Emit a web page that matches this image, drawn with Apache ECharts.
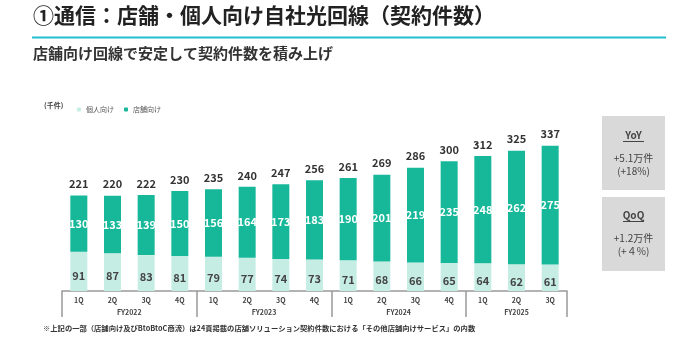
<!DOCTYPE html>
<html><head><meta charset="utf-8">
<script src="https://cdn.jsdelivr.net/npm/echarts@6/dist/echarts.min.js"></script>
<style>html,body{margin:0;padding:0;background:#fff}#c{width:691px;height:337px}</style>
</head><body><div id="c"></div>
<script>
const quarters = ['1Q','2Q','3Q','4Q','1Q','2Q','3Q','4Q','1Q','2Q','3Q','4Q','1Q','2Q','3Q'];
const fiscalYears = ['FY2022','FY2023','FY2024','FY2025'];
const kojin = [91,87,83,81,79,77,74,73,71,68,66,65,64,62,61];
const tenpo = [130,133,139,150,156,164,173,183,190,201,219,235,248,262,275];
const totals = [221,220,222,230,235,240,247,256,261,269,286,300,312,325,337];
const fyPos = {4:fiscalYears[0],12:fiscalYears[1],20:fiscalYears[2],27:fiscalYears[3]};

const FONT = '"Noto Sans CJK JP","Noto Sans",sans-serif';
const chart = echarts.init(document.getElementById('c'));
const L = 62, R = 691-567, B = 337-291;
chart.setOption({
  animation:false,
  textStyle:{fontFamily:FONT},
  grid:{left:L, right:R, top:118, bottom:B},
  legend:{left:72, top:101, itemWidth:4, itemHeight:4, itemGap:10,
    textStyle:{fontSize:7, color:'#555', fontFamily:FONT},
    data:['個人向け','店舗向け']},
  xAxis:[{
    type:'category', data:quarters,
    axisLine:{lineStyle:{color:'#999', width:1.5}},
    axisTick:{show:true, length:26, lineStyle:{color:'#999',width:1.5},
      interval:function(i){return i%4===0;}},
    axisLabel:{fontSize:7, fontWeight:'bold', color:'#444', margin:6, fontFamily:FONT}
  },{
    type:'value', min:0, max:30, interval:1, position:'bottom',
    axisLine:{show:false}, axisTick:{show:false}, splitLine:{show:false},
    axisLabel:{fontSize:7, fontWeight:'bold', color:'#444', margin:18, fontFamily:FONT,
      formatter:function(v){return fyPos[v]||'';}}
  }],
  yAxis:{type:'value', min:0, max:400, show:false},
  series:[
    {name:'個人向け', type:'bar', stack:'a', data:kojin, barWidth:17,
     itemStyle:{color:'#c6ede4'},
     label:{show:true, position:'inside', offset:[0,4], fontSize:11, fontWeight:'bold', color:'#444', fontFamily:FONT}},
    {name:'店舗向け', type:'bar', stack:'a', data:tenpo, barWidth:17,
     itemStyle:{color:'#16b899'},
     label:{show:true, position:'inside', fontSize:11, fontWeight:'bold', color:'#fff', fontFamily:FONT}},
    {name:'total', type:'line', data:totals, symbol:'circle', symbolSize:0.1, showSymbol:true,
     itemStyle:{opacity:0}, lineStyle:{opacity:0}, silent:true,
     label:{show:true, position:'top', distance:6, fontSize:11, fontWeight:'bold', color:'#333', opacity:1, fontFamily:FONT}}
  ],
  graphic:[
    {type:'text', left:33, top:5, style:{text:'①通信：店舗・個人向け自社光回線（契約件数）', font:'bold 21px '+FONT, fill:'#222'}},
    {type:'rect', shape:{x:32, y:36.5, width:634, height:2}, style:{fill:'#1ebfd0'}},
    {type:'text', left:33, top:46, style:{text:'店舗向け回線で安定して契約件数を積み上げ', font:'bold 15px '+FONT, fill:'#333'}},
    {type:'text', left:44, top:102, style:{text:'(千件)', font:'bold 7px '+FONT, fill:'#444'}},
    {type:'text', left:43, top:325, style:{text:'※上記の一部（店舗向け及びBtoBtoC商流）は24頁掲載の店舗ソリューション契約件数における「その他店舗向けサービス」の内数', font:'bold 7.3px '+FONT, fill:'#333'}},
    {type:'rect', shape:{x:602, y:116, width:63, height:74}, style:{fill:'#d9d9d9'}},
    {type:'rect', shape:{x:602, y:197, width:63, height:74}, style:{fill:'#d9d9d9'}},
    {type:'text', x:633.5, y:135, style:{text:'YoY', font:'bold 10px '+FONT, fill:'#444', align:'center', verticalAlign:'middle'}},
    {type:'rect', shape:{x:623, y:141, width:21, height:1}, style:{fill:'#444'}},
    {type:'text', x:633.5, y:158, style:{text:'+5.1万件', font:'10px '+FONT, fill:'#444', align:'center', verticalAlign:'middle'}},
    {type:'text', x:633.5, y:171, style:{text:'(+18%)', font:'10px '+FONT, fill:'#444', align:'center', verticalAlign:'middle'}},
    {type:'text', x:633.5, y:215, style:{text:'QoQ', font:'bold 10px '+FONT, fill:'#444', align:'center', verticalAlign:'middle'}},
    {type:'rect', shape:{x:623, y:221, width:21, height:1}, style:{fill:'#444'}},
    {type:'text', x:633.5, y:238, style:{text:'+1.2万件', font:'10px '+FONT, fill:'#444', align:'center', verticalAlign:'middle'}},
    {type:'text', x:633.5, y:251, style:{text:'(+４%)', font:'10px '+FONT, fill:'#444', align:'center', verticalAlign:'middle'}}
  ]
});
</script></body></html>
